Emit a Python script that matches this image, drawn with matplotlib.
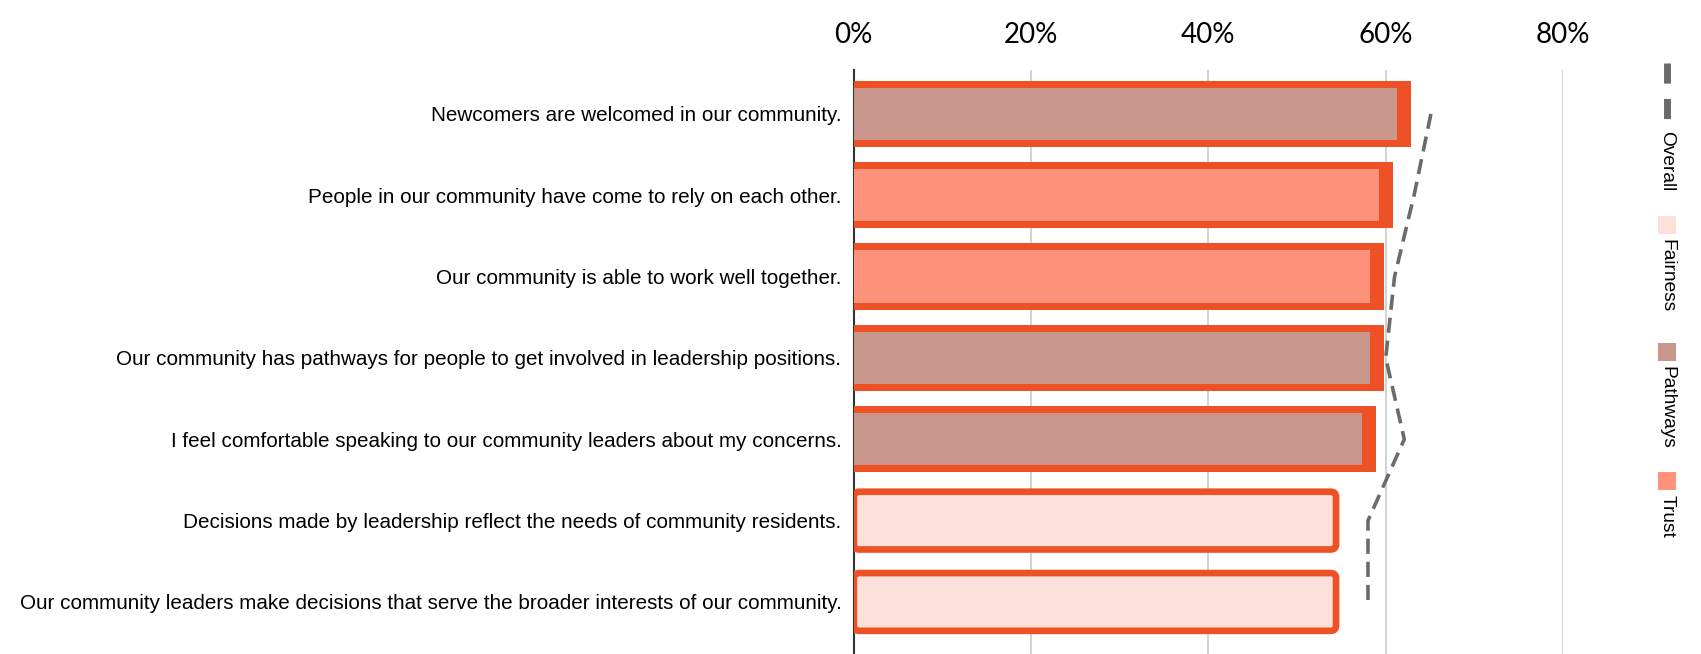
import matplotlib
matplotlib.use("Agg")
import matplotlib.pyplot as plt
from matplotlib.patches import FancyBboxPatch, Rectangle
from matplotlib.lines import Line2D

# Survey statements, top to bottom
statements = [
    "Newcomers are welcomed in our community.",
    "People in our community have come to rely on each other.",
    "Our community is able to work well together.",
    "Our community has pathways for people to get involved in leadership positions.",
    "I feel comfortable speaking to our community leaders about my concerns.",
    "Decisions made by leadership reflect the needs of community residents.",
    "Our community leaders make decisions that serve the broader interests of our community.",
]
dimension = ["Pathways", "Trust", "Trust", "Pathways", "Pathways", "Fairness", "Fairness"]
agree_pct = [61.3, 59.2, 58.2, 58.2, 57.3, 54.4, 54.4]
overall_pct = [65.1, 63.2, 61.0, 60.0, 62.1, 58.0, 58.0]
x_ticks = [0, 20, 40, 60, 80]
legend_items = ["Fairness", "Pathways", "Trust"]

colors = {"Fairness": "#FDE0D9", "Pathways": "#C8968A", "Trust": "#FF927A"}
frame_color = "#EF5127"
line_color = "#6B6B6B"

W, H = 1701, 654
fig = plt.figure(figsize=(W / 100, H / 100), dpi=100)
ax = fig.add_axes([853.8 / W, 0, (1563 - 853.8) / W, 1 - 70 / H])
ax.set_xlim(0, 80)
ax.set_ylim(6.64, -0.54)

# px per data unit, used to keep the rounded corners round
px_x = (1563 - 853.8) / 80
px_y = (H - 70) / 7.18

for i, (val, dim) in enumerate(zip(agree_pct, dimension)):
    if dim == "Fairness":
        box = FancyBboxPatch((0, i - 0.355), val, 0.71,
                             boxstyle="round,pad=0,rounding_size=0.6",
                             mutation_aspect=px_x / px_y,
                             facecolor=colors[dim], edgecolor=frame_color,
                             linewidth=4.8, zorder=3)
        ax.add_patch(box)
    else:
        # highlighted rows get a solid frame behind the bar
        ax.barh(i, val + 1.6, height=0.815, color=frame_color, zorder=2)
        ax.barh(i, val, height=0.643, color=colors[dim], zorder=3)

rows = list(range(len(statements)))
ax.plot(overall_pct, rows, color=line_color, linewidth=2.6,
        dashes=(4.2, 2.2), zorder=4, solid_capstyle="butt")

ax.xaxis.tick_top()
ax.set_xticks(x_ticks)
ax.set_xticklabels([f"{t}%" for t in x_ticks], fontfamily="Lato", fontsize=20)
ax.tick_params(axis="x", length=0, pad=16)
ax.set_yticks(rows)
ax.set_yticklabels(statements, fontfamily="Liberation Sans", fontsize=14.9)
ax.tick_params(axis="y", length=0, pad=9)
ax.grid(axis="x", color="#CCCCCC", linewidth=1.2, zorder=0)
ax.set_axisbelow(True)
for s in ["top", "right", "bottom"]:
    ax.spines[s].set_visible(False)
ax.spines["left"].set_color("#333333")
ax.spines["left"].set_linewidth(1.5)
ax.spines["left"].set_zorder(1)

# vertical legend on the right edge
lx = 1666.7 / W
def fy(py):
    return 1 - py / H

fig.add_artist(Line2D([lx, lx], [fy(63), fy(120)], color=line_color,
                      linewidth=5, dashes=(2.9, 2.2)))
fig.text(lx, fy(131), "Overall", rotation=270, ha="center", va="top",
         fontfamily="Liberation Sans", fontsize=13.8)
sq_tops = [216, 343, 472]
for name, top in zip(legend_items, sq_tops):
    fig.add_artist(Rectangle((lx - 9 / W, fy(top + 18)), 18 / W, 18 / H,
                             facecolor=colors[name], edgecolor="none",
                             transform=fig.transFigure))
    fig.text(lx, fy(top + 23), name, rotation=270, ha="center", va="top",
             fontfamily="Liberation Sans", fontsize=13.8)

fig.savefig("out.png", dpi=100, facecolor="white")
